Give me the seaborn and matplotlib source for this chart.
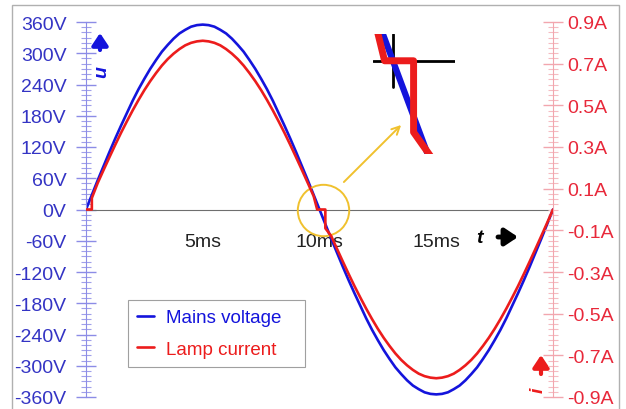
import matplotlib
matplotlib.use('Agg')
import matplotlib.pyplot as plt
import seaborn as sns
from matplotlib.ticker import MultipleLocator, FixedLocator, FuncFormatter
from matplotlib.patches import Rectangle

# mains voltage, read every 0.25 ms
t_v = [0, 0.25, 0.5, 0.75, 1, 1.25, 1.5, 1.75, 2, 2.25, 2.5, 2.75, 3, 3.25, 3.5, 3.75,
       4, 4.25, 4.5, 4.75, 5, 5.25, 5.5, 5.75, 6, 6.25, 6.5, 6.75, 7, 7.25, 7.5, 7.75,
       8, 8.25, 8.5, 8.75, 9, 9.25, 9.5, 9.75, 10, 10.25, 10.5, 10.75, 11, 11.25, 11.5,
       11.75, 12, 12.25, 12.5, 12.75, 13, 13.25, 13.5, 13.75, 14, 14.25, 14.5, 14.75,
       15, 15.25, 15.5, 15.75, 16, 16.25, 16.5, 16.75, 17, 17.25, 17.5, 17.75, 18,
       18.25, 18.5, 18.75, 19, 19.25, 19.5, 19.75, 20]
volts = [0, 28, 56, 83, 110, 136, 161, 185, 209, 231, 251, 270, 287, 303, 316, 328, 338,
         345, 351, 354, 355, 354, 351, 345, 338, 328, 316, 303, 287, 270, 251, 231, 209,
         185, 161, 136, 110, 83, 56, 28, 0, -28, -56, -83, -110, -136, -161, -185, -209,
         -231, -251, -270, -287, -303, -316, -328, -338, -345, -351, -354, -355, -354,
         -351, -345, -338, -328, -316, -303, -287, -270, -251, -231, -209, -185, -161,
         -136, -110, -83, -56, -28, 0]

# lamp current (dead zone around the zero crossings)
t_i = [0, 0.25, 0.25, 0.5, 0.75, 1, 1.25, 1.5, 1.75, 2, 2.25, 2.5, 2.75, 3, 3.25, 3.5,
       3.75, 4, 4.25, 4.5, 4.75, 5, 5.25, 5.5, 5.75, 6, 6.25, 6.5, 6.75, 7, 7.25, 7.5,
       7.75, 8, 8.25, 8.5, 8.75, 9, 9.25, 9.5, 9.75, 9.9, 10.25, 10.25, 10.5, 10.75, 11,
       11.25, 11.5, 11.75, 12, 12.25, 12.5, 12.75, 13, 13.25, 13.5, 13.75, 14, 14.25,
       14.5, 14.75, 15, 15.25, 15.5, 15.75, 16, 16.25, 16.5, 16.75, 17, 17.25, 17.5,
       17.75, 18, 18.25, 18.5, 18.75, 19, 19.25, 19.5, 19.75, 20]
amps = [0, 0, 0.055, 0.127, 0.189, 0.250, 0.310, 0.368, 0.423, 0.476, 0.526, 0.573,
        0.616, 0.655, 0.691, 0.722, 0.748, 0.770, 0.788, 0.800, 0.807, 0.810, 0.807,
        0.800, 0.788, 0.770, 0.748, 0.722, 0.691, 0.655, 0.616, 0.573, 0.526, 0.476,
        0.423, 0.368, 0.310, 0.250, 0.189, 0.127, 0.064, 0, 0, -0.09, -0.127, -0.189,
        -0.250, -0.310, -0.368, -0.423, -0.476, -0.526, -0.573, -0.616, -0.655, -0.691,
        -0.722, -0.748, -0.770, -0.788, -0.800, -0.807, -0.810, -0.807, -0.800, -0.788,
        -0.770, -0.748, -0.722, -0.691, -0.655, -0.616, -0.573, -0.526, -0.476, -0.423,
        -0.368, -0.310, -0.250, -0.189, -0.127, -0.064, 0]

x_ticks = [5, 10, 15]
x_labels = ['5ms', '10ms', '15ms']
amp_ticks = [-0.9, -0.7, -0.5, -0.3, -0.1, 0.1, 0.3, 0.5, 0.7, 0.9]

BLUE = '#1414dc'
RED = '#ec1c1c'
YELLOW = '#f0c12e'

sns.set_style('white')
plt.rcParams['font.family'] = ['Liberation Sans', 'DejaVu Sans']

W, H = 626, 410
fig = plt.figure(figsize=(W / 100, H / 100), dpi=100)
ax = fig.add_axes([86 / W, 12 / H, 467 / W, 375 / H])
ax.patch.set_alpha(0)
ax2 = ax.twinx()

sns.lineplot(x=t_v, y=volts, ax=ax, color=BLUE, lw=1.9, estimator=None, sort=False,
             label='Mains voltage')
sns.lineplot(x=t_i, y=amps, ax=ax2, color=RED, lw=1.9, estimator=None, sort=False,
             label='Lamp current')

ax.set_xlim(0, 20)
ax.set_ylim(-360, 360)
ax2.set_ylim(-0.9, 0.9)

# spines
for s in ['top', 'right']:
    ax.spines[s].set_visible(False)
for s in ['top', 'bottom', 'left']:
    ax2.spines[s].set_visible(False)
ax.spines['bottom'].set_position(('data', 0))
ax.spines['bottom'].set_color('#6e6e6e')
ax.spines['left'].set_color('#8c8ce6')
ax2.spines['right'].set_color('#f2a6ae')

# y ticks, left (voltage)
ax.yaxis.set_major_locator(MultipleLocator(60))
ax.yaxis.set_minor_locator(MultipleLocator(10))
ax.yaxis.set_major_formatter(FuncFormatter(lambda v, p: f'{v:.0f}V'))
ax.tick_params(axis='y', which='major', direction='inout', length=14, width=1,
               color='#8c8ce6', labelcolor='#3434c4', labelsize=14, pad=7)
ax.tick_params(axis='y', which='minor', direction='inout', length=7, width=0.8,
               color='#a0a0ea')

# y ticks, right (current)
ax2.yaxis.set_major_locator(FixedLocator(amp_ticks))
ax2.yaxis.set_minor_locator(MultipleLocator(0.025))
ax2.yaxis.set_major_formatter(FuncFormatter(lambda v, p: f'{v:.1f}A'))
ax2.tick_params(axis='y', which='major', direction='inout', length=14, width=1,
                color='#f2a6ae', labelcolor='#e8283a', labelsize=14, pad=3)
ax2.tick_params(axis='y', which='minor', direction='inout', length=7, width=0.8,
                color='#f5bcc2')

# x ticks on the zero line
ax.xaxis.set_major_locator(FixedLocator(x_ticks))
ax.set_xticklabels(x_labels)
ax.xaxis.set_minor_locator(MultipleLocator(1))
ax.tick_params(axis='x', which='major', direction='inout', length=10, width=1,
               color='#6e6e6e', labelcolor='#222222', labelsize=14, pad=12)
ax.tick_params(axis='x', which='minor', direction='inout', length=6, width=0.8,
               color='#8a8a8a')
ax.set_xlabel('')
ax.set_ylabel('')
ax2.set_ylabel('')

# legend
ax.get_legend().remove()
h1, l1 = ax.get_legend_handles_labels()
h2, l2 = ax2.get_legend_handles_labels()
leg = ax2.legend(h1 + h2, l1 + l2, loc='lower left',
                 bbox_to_anchor=(0.09, 0.08, (305 - 128) / 467, 0.2), mode='expand',
                 borderaxespad=0, fontsize=13.5, frameon=True, fancybox=False,
                 framealpha=1, edgecolor='#a0a0a0', handlelength=0.9,
                 handletextpad=0.6, labelspacing=0.75, borderpad=0.5)
leg.get_frame().set_linewidth(0.8)
leg.get_texts()[0].set_color(BLUE)
leg.get_texts()[1].set_color(RED)

# yellow circle and arrow pointing to the zoomed view
ax.plot([10.15], [0], marker='o', ms=37, mfc='none', mec=YELLOW, mew=1.4, zorder=5)
ax.annotate('', xy=(13.58, 166), xytext=(10.96, 49),
            arrowprops=dict(arrowstyle='->', color=YELLOW, lw=1.4, mutation_scale=14))

# zoomed view of the zero crossing
axi = fig.add_axes([373 / W, (H - 155) / H, 82 / W, 120 / H])
axi.axis('off')
axi.set_xlim(9.76, 10.75)
axi.set_ylim(-47, 13.5)
axi.axhline(0, color='black', lw=2, zorder=1)
axi.axvline(10, ymin=(155 - 88) / 120, ymax=1, color='black', lw=2, zorder=1)
sns.lineplot(x=t_v, y=volts, ax=axi, color=BLUE, lw=4.5, estimator=None, sort=False,
             zorder=2)
sns.lineplot(x=t_i, y=[a * 400 for a in amps], ax=axi, color=RED, lw=5,
             estimator=None, sort=False, zorder=3)

# axis name labels with arrows
arrow_style = '-|>,head_length=0.45,head_width=0.3'
fig.text(102 / W, 1 - 72 / H, 'u', color=BLUE, fontsize=14, fontweight='bold',
         fontstyle='italic', rotation=90, ha='center', va='center')
ax.annotate('', xy=(100, H - 34), xytext=(100, H - 51), xycoords='figure pixels',
            textcoords='figure pixels',
            arrowprops=dict(arrowstyle=arrow_style, color=BLUE, lw=3,
                            mutation_scale=16, shrinkA=0, shrinkB=0))
fig.text(538 / W, 1 - 390 / H, 'i', color=RED, fontsize=14, fontweight='bold',
         fontstyle='italic', rotation=90, ha='center', va='center')
ax.annotate('', xy=(541, H - 356), xytext=(541, H - 375), xycoords='figure pixels',
            textcoords='figure pixels',
            arrowprops=dict(arrowstyle=arrow_style, color=RED, lw=3,
                            mutation_scale=16, shrinkA=0, shrinkB=0))
fig.text(479 / W, 1 - 239 / H, 't', color='black', fontsize=14, fontweight='bold',
         fontstyle='italic', ha='center', va='center')
ax.annotate('', xy=(518, H - 238), xytext=(498, H - 238), xycoords='figure pixels',
            textcoords='figure pixels',
            arrowprops=dict(arrowstyle=arrow_style, color='black', lw=3.5,
                            mutation_scale=17, shrinkA=0, shrinkB=0))

# outer frame
fig.patches.append(Rectangle((12 / W, -0.1), (619 - 12) / W, 1.1 - 6 / H,
                             transform=fig.transFigure, fill=False,
                             edgecolor='#b0b0b0', lw=1))

fig.savefig('out.png', dpi=100)
